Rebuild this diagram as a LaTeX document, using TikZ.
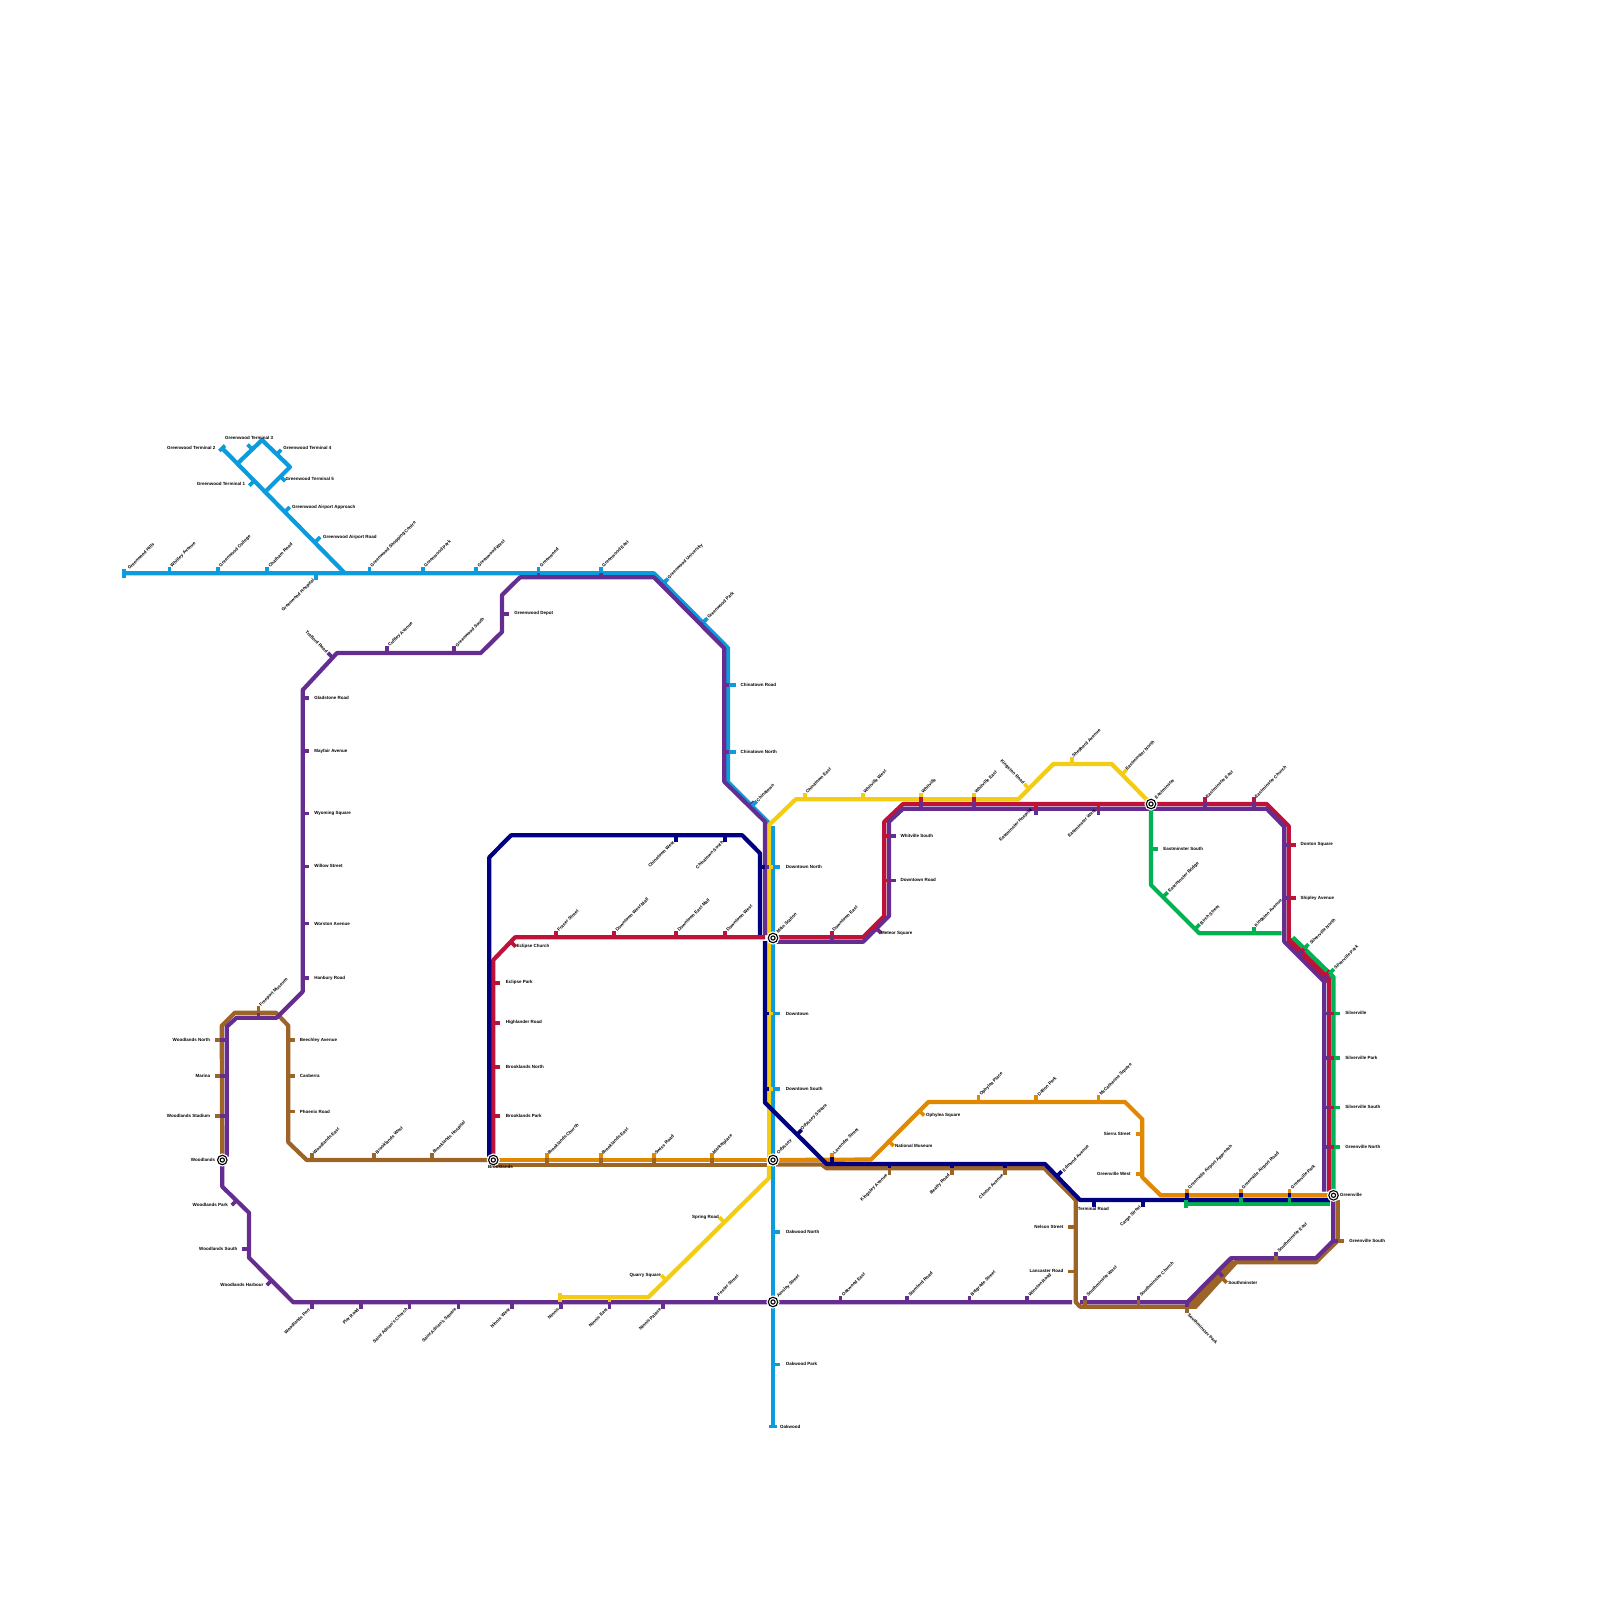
\documentclass[tikz,border=0pt]{standalone}
\usepackage{fontspec}
\setmainfont{Liberation Sans}
\usepackage{xcolor}
\usepackage{tikz}
\definecolor{lineblue}{HTML}{0C9BDC}
\definecolor{linepurple}{HTML}{662D91}
\definecolor{linered}{HTML}{BE1238}
\definecolor{linenavy}{HTML}{000080}
\definecolor{lineyellow}{HTML}{F3CC13}
\definecolor{lineorange}{HTML}{E18700}
\definecolor{linebrown}{HTML}{9C6426}
\definecolor{linegreen}{HTML}{00B251}

\begin{document}
\begin{tikzpicture}[x=1pt,y=-1pt]
    \tikzset{
      metroline/.style={draw=#1,line width=4.2pt,line join=round},
      stoptick/.style={draw=#1,line width=3.6pt},
      stoplabel/.style={font=\fontsize{4.5}{5}\selectfont\bfseries,inner sep=0pt,outer sep=0pt,text=black},
      lblE/.style={stoplabel,anchor=west,xshift=#1},lblE/.default=5pt,
      lblW/.style={stoplabel,anchor=east,xshift=#1},lblW/.default=-5pt,
      lblNE/.style={stoplabel,xshift=#1,rotate=45,anchor=west,xshift=0.6pt},lblNE/.default=1.7pt,
      lblSW/.style={stoplabel,xshift=#1,rotate=45,anchor=east},lblSW/.default=-2.4pt,
      lblNW/.style={stoplabel,rotate=-45,anchor=east,xshift=-1pt},
      lblSE/.style={stoplabel,rotate=-45,anchor=west,xshift=2pt},
      hub/.style={circle,draw=black,fill=white,line width=1.1pt,minimum size=9.5pt,inner sep=0pt,preaction={draw=white,line width=3.5pt}},
      hubcore/.style={circle,draw=black,fill=white,line width=1.1pt,minimum size=4.2pt,inner sep=0pt}
    }
    \useasboundingbox (0,0) rectangle (1600,1600);
    \coordinate (mainpt) at (773,938);
    \coordinate (brookpt) at (493.3,1160);
    \coordinate (odysseypt) at (773,1160);
    \coordinate (ainsleypt) at (773,1302);
    \coordinate (woodpt) at (222.3,1160);
    \coordinate (eastpt) at (1151,804);
    \coordinate (greenvillept) at (1333.5,1195.3);
    % routes
    \draw[metroline=linebrown] (woodpt) -- (221.7,1026) -- (235,1012.7) -- (276,1012.7) -- (288.3,1025.7) -- (288.3,1142.3) -- (306.7,1160) -- (brookpt);
    \draw[metroline=linebrown] (493.3,1165) -- (766.7,1165);
    \draw[metroline=linebrown] (776,1164.5) -- (821.7,1164.5) -- (826.7,1168.3) -- (1044.3,1168.3) -- (1075.7,1200) -- (1075.7,1302) -- (1080,1306.7) -- (1191.7,1306.7) -- (1235,1262.3) -- (1315.7,1262.3) -- (1337.7,1240.7) -- (1337.7,1200);
    \fill[linebrown] (1187.3,1302.3) -- (1230.7,1258.3) -- (1237,1264.4) -- (1196.5,1308.8) -- (1187.3,1308.8) -- cycle;
    \draw[metroline=lineorange] (brookpt) -- (766.7,1160);
    \draw[metroline=lineorange] (odysseypt) -- (871,1159.5) -- (928.3,1102) -- (1125,1102) -- (1142.3,1119.3) -- (1142.3,1177.3) -- (1160.7,1195.3) -- (greenvillept);
    \draw[metroline=lineblue] (124,573.3) -- (654,573.3) -- (728,648) -- (728,782) -- (769,823);
    \draw[metroline=lineblue] (773,826) -- (773,1427);
    \draw[metroline=lineblue] (222,448) -- (345,573.3);
    \draw[metroline=lineblue] (238,463) -- (262,440) -- (290,467) -- (265,492);
    \draw[metroline=lineyellow] (769,1110) -- (769,825) -- (795.7,799.3) -- (1018.3,799.3) -- (1053.3,764) -- (1111.7,764) -- (eastpt);
    \draw[metroline=lineyellow] (769,1100) -- (769,1157);
    \draw[metroline=lineyellow] (769,1166) -- (769,1178) -- (648.3,1297.3) -- (559.3,1297.3);
    \draw[metroline=linered] (brookpt) -- (493.3,960) -- (515,937.3) -- (765,937.3);
    \draw[metroline=linered] (mainpt) -- (773,937.3) -- (863,937.3) -- (884.3,916) -- (884.3,821.7) -- (903,804) -- (1266.7,804) -- (1288.7,826) -- (1288.7,940) -- (1329.3,980) -- (1329.3,1191.7);
    \draw[metroline=linered,line width=7pt] (1288.5,940) -- (1329.5,981);
    \draw[metroline=linepurple] (226.7,1156.7) -- (226.7,1026.7) -- (236.7,1017.7) -- (276.7,1017.7) -- (302.7,991.7) -- (302.7,690) -- (337,653) -- (480.7,653) -- (502,632) -- (502,595) -- (520,577.3) -- (654,577.3) -- (724.3,648.3) -- (724.3,781.7) -- (765,821.7) -- (765,935);
    \draw[metroline=linepurple] (776.7,941.7) -- (863.3,941.7) -- (889,916) -- (889,821.7) -- (903,808.7) -- (1266.7,808.7) -- (1284.3,826.7) -- (1284.3,941.7) -- (1324.3,981.7) -- (1324.3,1191.7);
    \draw[metroline=linepurple] (1333.3,1200) -- (1333.3,1240.7) -- (1315.7,1258.3) -- (1230.7,1258.3) -- (1187.3,1302.3) -- (1080,1302.3);
    \draw[metroline=linepurple] (1072,1302.3) -- (293.3,1302.3) -- (249,1257.7) -- (249,1212.7) -- (222.3,1186.7) -- (woodpt);
    \draw[metroline=linegreen] (eastpt) -- (1151,885) -- (1199.3,933.3) -- (1281.7,933.3);
    \draw[metroline=linegreen] (1292.7,937.3) -- (1333.5,977) -- (1333.5,1191.7);
    \draw[metroline=linegreen] (1185.7,1204) -- (1330,1204);
    \draw[metroline=linenavy] (489.3,1156.7) -- (489.3,857.3) -- (511,835.3) -- (742.3,835.3) -- (760,853.3) -- (760,935);
    \draw[metroline=linenavy] (765,941) -- (765,1102.7) -- (826.7,1164) -- (1045,1164) -- (1080,1200) -- (1330,1200);
    % greenwood line
    \draw[stoptick=lineblue] (124,577.5) -- (124,569) node[lblNE=4pt] (greenwoodhills) {Greenwood Hills};
    \draw[stoptick=lineblue] (169.3,573.3) -- ++(0,-6.6) node[lblNE] (whitleyave) {Whitley Avenue};
    \draw[stoptick=lineblue] (218,573.3) -- ++(0,-6.6) node[lblNE] (greenwoodcollege) {Greenwood College};
    \draw[stoptick=lineblue] (267,573.3) -- ++(0,-6.6) node[lblNE] (chathamrd) {Chatham Road};
    \draw[stoptick=lineblue] (316,573.3) -- ++(0,6.6) node[lblSW] (greenwoodhospital) {Greenwood Hospital};
    \draw[stoptick=lineblue] (369.3,573.3) -- ++(0,-6.6) node[lblNE] (greenwoodshopping) {Greenwood Shopping Centre};
    \draw[stoptick=lineblue] (422.7,573.3) -- ++(0,-6.6) node[lblNE] (greenwoodpark) {Greenwood Park};
    \draw[stoptick=lineblue] (476,573.3) -- ++(0,-6.6) node[lblNE] (greenwoodwest) {Greenwood West};
    \draw[stoptick=linepurple] (538.3,577.3) -- ++(0,-6.6);
    \draw[stoptick=lineblue] (538.3,573.3) -- ++(0,-6.6) node[lblNE] (greenwood) {Greenwood};
    \draw[stoptick=linepurple] (600.7,577.3) -- ++(0,-6.6);
    \draw[stoptick=lineblue] (600.7,573.3) -- ++(0,-6.6) node[lblNE] (greenwoodeast) {Greenwood East};
    \draw[stoptick=lineblue] (225,445.5) -- (219.3,451);
    \node[lblW=0pt] (terminaltwo) at (215.3,448.3) {Greenwood Terminal 2};
    \draw[stoptick=lineblue] (252,449) -- (247.5,444.5);
    \node[stoplabel,anchor=west] (terminalthree) at (225,438.3) {Greenwood Terminal 3};
    \draw[stoptick=lineblue] (276.5,454.5) -- (281.2,449.8);
    \node[lblE=0pt] (terminalfour) at (283.3,448.3) {Greenwood Terminal 4};
    \draw[stoptick=lineblue] (280.5,476.5) -- (285.2,481.2);
    \node[lblE=0pt] (terminalfive) at (285.7,479.3) {Greenwood Terminal 5};
    \draw[stoptick=lineblue] (254,481) -- (249.3,485.7);
    \node[lblW=0pt] (terminalone) at (245,483.7) {Greenwood Terminal 1};
    \draw[stoptick=lineblue] (285,511.7) -- ++(4.7,-4.7) node[lblE=2.5pt] (airportapproach) {Greenwood Airport Approach};
    \draw[stoptick=lineblue] (315.5,541.7) -- ++(4.7,-4.7) node[lblE=3pt] (airportroad) {Greenwood Airport Road};
    % upper purple
    \draw[stoptick=linepurple] (332.5,657.5) -- ++(-4.7,-4.7) node[lblNW] (traffordrd) {Trafford Road};
    \draw[stoptick=linepurple] (387,653) -- ++(0,-6.6) node[lblNE] (cuffleyave) {Cuffley Avenue};
    \draw[stoptick=linepurple] (454,653) -- ++(0,-6.6) node[lblNE] (greenwoodsouth) {Greenwood South};
    \draw[stoptick=linepurple] (502,613.7) -- ++(7.3,0) node[lblE] (greenwooddepot) {Greenwood Depot};
    \draw[stoptick=linepurple] (302.7,698) -- ++(6.6,0) node[lblE] (gladstonerd) {Gladstone Road};
    \draw[stoptick=linepurple] (302.7,751) -- ++(6.6,0) node[lblE] (mayfairave) {Mayfair Avenue};
    \draw[stoptick=linepurple] (302.7,813.3) -- ++(6.6,0) node[lblE] (wyomingsq) {Wyoming Square};
    \draw[stoptick=linepurple] (302.7,866.3) -- ++(6.6,0) node[lblE] (willowst) {Willow Street};
    \draw[stoptick=linepurple] (302.7,923.5) -- ++(6.6,0) node[lblE] (worstonave) {Worston Avenue};
    \draw[stoptick=linepurple] (302.7,978) -- ++(6.6,0) node[lblE] (hanburyrd) {Hanbury Road};
    \draw[stoptick=linepurple] (258.3,1017.7) -- ++(0,-6.6);
    \draw[stoptick=linebrown] (258.3,1012.7) -- ++(0,-6.6) node[lblNE] (freeportmuseum) {Freeport Museum};
    \draw[stoptick=linebrown] (221.7,1040) -- ++(-6.6,0) node[lblW] (woodlandsnorth) {Woodlands North};
    \draw[stoptick=linepurple] (226.7,1040) -- ++(-6.6,0);
    \draw[stoptick=linebrown] (221.7,1075.7) -- ++(-6.6,0) node[lblW] (marina) {Marina};
    \draw[stoptick=linepurple] (226.7,1075.7) -- ++(-6.6,0);
    \draw[stoptick=linebrown] (221.7,1115.7) -- ++(-6.6,0) node[lblW] (woodlandsstadium) {Woodlands Stadium};
    \draw[stoptick=linepurple] (226.7,1115.7) -- ++(-6.6,0);
    % woodlands brown
    \draw[stoptick=linebrown] (288.3,1040) -- ++(6.6,0) node[lblE] (beechleyave) {Beechley Avenue};
    \draw[stoptick=linebrown] (288.3,1075.7) -- ++(6.6,0) node[lblE] (canberra) {Canberra};
    \draw[stoptick=linebrown] (288.3,1111.5) -- ++(6.6,0) node[lblE] (phoenixrd) {Phoenix Road};
    \draw[stoptick=linebrown] (311.7,1160) -- ++(0,-6.6) node[lblNE] (woodlandseast) {Woodlands East};
    \draw[stoptick=linebrown] (374,1160) -- ++(0,-6.6) node[lblNE] (brooklandswest) {Brooklands West};
    \draw[stoptick=linebrown] (431.7,1160) -- ++(0,-6.6) node[lblNE] (brooklandshospital) {Brooklands Hospital};
    % lower purple
    \draw[stoptick=linepurple] (236.5,1200.5) -- ++(-4.7,4.7) node[lblW=-4pt] (woodlandspark) {Woodlands Park};
    \draw[stoptick=linepurple] (249,1249) -- ++(-6.6,0) node[lblW] (woodlandssouth) {Woodlands South};
    \draw[stoptick=linepurple] (271.5,1280.5) -- ++(-4.7,4.7) node[lblW=-3.5pt] (woodlandsharbour) {Woodlands Harbour};
    \draw[stoptick=linepurple] (311.7,1302.3) -- ++(0,6.6) node[lblSW] (woodlandsport) {Woodlands Port};
    \draw[stoptick=linepurple] (360.7,1302.3) -- ++(0,6.6) node[lblSW] (pierrd) {Pier Road};
    \draw[stoptick=linepurple] (409.3,1302.3) -- ++(0,6.6) node[lblSW] (adrianchurch) {Saint Adrian's Church};
    \draw[stoptick=linepurple] (458.3,1302.3) -- ++(0,6.6) node[lblSW] (adriansquare) {Saint Adrian's Square};
    \draw[stoptick=linepurple] (511.7,1302.3) -- ++(0,6.6) node[lblSW] (ninniswest) {Ninnis West};
    \draw[stoptick=lineyellow] (560,1293) -- (560,1301.5);
    \draw[stoptick=linepurple] (560.7,1302.3) -- ++(0,6.6) node[lblSW] (ninnis) {Ninnis};
    \draw[stoptick=lineyellow] (609.3,1297.3) -- ++(0,6.6);
    \draw[stoptick=linepurple] (609.3,1302.3) -- ++(0,6.6) node[lblSW] (ninniseast) {Ninnis East};
    \draw[stoptick=linepurple] (662.7,1302.3) -- ++(0,6.6) node[lblSW] (ninnispalace) {Ninnis Palace};
    \draw[stoptick=linepurple] (716,1302.3) -- ++(0,-6.6) node[lblNE] (fosterst) {Foster Street};
    \draw[stoptick=linepurple] (840.3,1302.3) -- ++(0,-6.6) node[lblNE] (oakwoodeast) {Oakwood East};
    \draw[stoptick=linepurple] (907,1302.3) -- ++(0,-6.6) node[lblNE] (stamfordrd) {Stamford Road};
    \draw[stoptick=linepurple] (969.3,1302.3) -- ++(0,-6.6) node[lblNE] (belgradest) {Belgrade Street};
    \draw[stoptick=linepurple] (1027,1302.3) -- ++(0,-6.6) node[lblNE] (winstonrd) {Winston Road};
    \draw[stoptick=linepurple] (1085,1302.3) -- ++(0,-6.6) node[lblNE] (southminsterwest) {Southminster West};
    \draw[stoptick=linebrown] (1085,1306.7) -- ++(0,-6.6);
    \draw[stoptick=linepurple] (1138.3,1302.3) -- ++(0,-6.6) node[lblNE] (southminsterchurch) {Southminster Church};
    \draw[stoptick=linebrown] (1138.3,1306.7) -- ++(0,-6.6);
    \draw[stoptick=linepurple] (1187,1302.3) -- ++(0,6.6);
    \draw[stoptick=linebrown] (1187,1306.7) -- ++(0,6.6) node[lblSE] (southminsterpark) {Southminster Park};
    \draw[stoptick=linepurple] (1218,1271.7) -- ++(4.7,4.7);
    \draw[stoptick=linebrown] (1222,1278) -- ++(4.7,4.7) node[lblE=1.6pt] (southminster) {Southminster};
    \draw[stoptick=linepurple] (1276,1258.3) -- ++(0,-6.6) node[lblNE] (southminstereast) {Southminster East};
    \draw[stoptick=linebrown] (1276,1262.3) -- ++(0,-6.6);
    \draw[stoptick=linepurple] (1333.3,1240.7) -- ++(6.6,0);
    \draw[stoptick=linebrown] (1337.7,1240.7) -- ++(6.6,0) node[lblE] (greenvillesouth) {Greenville South};
    % oakwood
    \draw[stoptick=lineblue] (728,685) -- ++(7.6,0) node[lblE] (chinatownrd) {Chinatown Road};
    \draw[stoptick=linepurple] (724.3,685) -- ++(4.2,0);
    \draw[stoptick=lineblue] (728,751.7) -- ++(7.6,0) node[lblE] (chinatownnorth) {Chinatown North};
    \draw[stoptick=linepurple] (724.3,751.7) -- ++(4.2,0);
    \draw[stoptick=linepurple] (661.7,585) -- ++(4.7,-4.7);
    \draw[stoptick=lineblue] (663.3,583.3) -- ++(4.7,-4.7) node[lblNE=0pt] (greenwooduni) {Greenwood University};
    \draw[stoptick=linepurple] (701.2,624.4) -- ++(4.7,-4.7);
    \draw[stoptick=lineblue] (702.8,622.8) -- ++(4.7,-4.7) node[lblNE=0pt] (greenwoodparksecond) {Greenwood Park};
    \draw[stoptick=linepurple] (749.5,806.5) -- ++(4.7,-4.7);
    \draw[stoptick=lineblue] (752,806) -- ++(4.7,-4.7) node[lblNE=0pt] (chinatown) {Chinatown};
    \draw[stoptick=linenavy] (760,867) -- ++(6.6,0);
    \draw[stoptick=linepurple] (765,867) -- ++(6.6,0);
    \draw[stoptick=lineyellow] (769,867) -- ++(6.6,0);
    \draw[stoptick=lineblue] (773,867) -- ++(6.8,0) node[lblE=6pt] (downtownnorth) {Downtown North};
    \draw[stoptick=linenavy] (765,1013.5) -- ++(6,0);
    \draw[stoptick=lineyellow] (769,1013.5) -- ++(6,0);
    \draw[stoptick=lineblue] (773,1013.5) -- ++(6.8,0) node[lblE=6pt] (downtown) {Downtown};
    \draw[stoptick=linenavy] (765,1089) -- ++(6,0);
    \draw[stoptick=lineyellow] (769,1089) -- ++(6,0);
    \draw[stoptick=lineblue] (773,1089) -- ++(6.8,0) node[lblE=6pt] (downtownsouth) {Downtown South};
    \draw[stoptick=lineblue] (773,1231.7) -- ++(6.8,0) node[lblE=6pt] (oakwoodnorth) {Oakwood North};
    \draw[stoptick=lineblue] (773,1364.3) -- ++(6.8,0) node[lblE=6pt] (oakwoodpark) {Oakwood Park};
    \draw[stoptick=lineblue] (769,1426.5) -- ++(8,0) node[lblE=3pt] (oakwood) {Oakwood};
    % navy
    \draw[stoptick=linenavy] (676,835.3) -- ++(0,6.6) node[lblSW] (chinatownwest) {Chinatown West};
    \draw[stoptick=linenavy] (725,835.3) -- ++(0,6.6) node[lblSW] (chinatownsouth) {Chinatown South};
    \draw[stoptick=linenavy] (797,1134.5) -- ++(4.7,-4.7) node[lblNE=-0.5pt] (odysseysq) {Odyssey Square};
    \draw[stoptick=lineorange] (831.7,1159.7) -- ++(0,-6.6);
    \draw[stoptick=linenavy] (831.7,1164) -- ++(0,-7.3);
    \node[lblNE=0pt] (lavenderst) at (833.3,1153.3) {Lavender Street};
    \draw[stoptick=linenavy] (889.3,1164) -- ++(0,6.6);
    \draw[stoptick=linebrown] (889.3,1168.3) -- ++(0,6.6) node[lblSW] (kingsleyave) {Kingsley Avenue};
    \draw[stoptick=linenavy] (951.7,1164) -- ++(0,6.6);
    \draw[stoptick=linebrown] (951.7,1168.3) -- ++(0,6.6) node[lblSW] (beattyrd) {Beatty Road};
    \draw[stoptick=linenavy] (1005,1164) -- ++(0,6.6);
    \draw[stoptick=linebrown] (1005,1168.3) -- ++(0,6.6) node[lblSW] (clintonave) {Clinton Avenue};
    \draw[stoptick=linenavy] (1057,1176) -- ++(4.7,-4.7) node[lblNE=1pt] (edmundave) {Edmund Avenue};
    \draw[stoptick=linenavy] (1094,1200) -- ++(0,6.6);
    \node[stoplabel,anchor=north] (terminalrd) at (1093.3,1207.5) {Terminal Road};
    \draw[stoptick=linenavy] (1142.7,1200) -- ++(0,6.6) node[lblSW] (cargost) {Cargo Street};
    \draw[stoptick=linebrown] (1075.7,1227) -- ++(-7.4,0) node[lblW] (nelsonst) {Nelson Street};
    \draw[stoptick=linebrown] (1075.7,1271.3) -- ++(-7.4,0) node[lblW] (lancasterrd) {Lancaster Road};
    % orange
    \draw[stoptick=lineorange] (546.7,1160) -- ++(0,-6.6);
    \draw[stoptick=linebrown] (546.7,1165) -- ++(0,-7.5);
    \node[lblNE=0pt] (brooklandschurch) at (548,1154) {Brooklands Church};
    \draw[stoptick=lineorange] (600.7,1160) -- ++(0,-6.6);
    \draw[stoptick=linebrown] (600.7,1165) -- ++(0,-7.5);
    \node[lblNE=0pt] (brooklandseast) at (602,1154) {Brooklands East};
    \draw[stoptick=lineorange] (653.7,1160) -- ++(0,-6.6);
    \draw[stoptick=linebrown] (653.7,1165) -- ++(0,-7.5);
    \node[lblNE=0pt] (swissrd) at (655,1154) {Swiss Road};
    \draw[stoptick=lineorange] (711.7,1160) -- ++(0,-6.6);
    \draw[stoptick=linebrown] (711.7,1165) -- ++(0,-7.5);
    \node[lblNE=0pt] (marketplace) at (713,1154) {Marketplace};
    \draw[stoptick=lineorange] (889,1141.3) -- ++(4.7,4.7) node[lblE=1.5pt] (nationalmuseum) {National Museum};
    \draw[stoptick=lineorange] (919.5,1110.8) -- ++(4.7,4.7) node[lblE=1.8pt] (ophyleasq) {Ophylea Square};
    \draw[stoptick=lineorange] (978.3,1102) -- ++(0,-6.6) node[lblNE] (ophyleapl) {Ophylea Place};
    \draw[stoptick=lineorange] (1036,1102) -- ++(0,-6.6) node[lblNE] (daltonpark) {Dalton Park};
    \draw[stoptick=lineorange] (1098.3,1102) -- ++(0,-6.6) node[lblNE] (mccatherinesq) {McCatherine Square};
    \draw[stoptick=lineorange] (1142.3,1133.7) -- ++(-6.6,0) node[lblW] (sierrast) {Sierra Street};
    \draw[stoptick=lineorange] (1142.3,1173.7) -- ++(-6.6,0) node[lblW] (greenvillewest) {Greenville West};
    \draw[stoptick=lineorange] (1187,1195.3) -- ++(0,-6.6) node[lblNE] (airportapproachg) {Greenville Airport Approach};
    \draw[stoptick=linenavy] (1187,1200) -- ++(0,-6.6);
    \draw[stoptick=linegreen] (1185.7,1199.7) -- ++(0,8.6);
    \draw[stoptick=lineorange] (1240.7,1195.3) -- ++(0,-6.6) node[lblNE] (airportroadg) {Greenville Airport Road};
    \draw[stoptick=linenavy] (1240.7,1200) -- ++(0,-6.6);
    \draw[stoptick=linegreen] (1240.7,1204) -- ++(0,-6.6);
    \draw[stoptick=lineorange] (1289.3,1195.3) -- ++(0,-6.6) node[lblNE] (greenvillepark) {Greenville Park};
    \draw[stoptick=linenavy] (1289.3,1200) -- ++(0,-6.6);
    \draw[stoptick=linegreen] (1289.3,1204) -- ++(0,-6.6);
    % yellow
    \draw[stoptick=lineyellow] (805,799.3) -- ++(0,-6.6) node[lblNE=1pt] (chinatowneast) {Chinatown East};
    \draw[stoptick=lineyellow] (862.7,799.3) -- ++(0,-6.6) node[lblNE=1pt] (whitvillewest) {Whitville West};
    \draw[stoptick=lineyellow] (920.7,799.3) -- ++(0,-6.6) node[lblNE=1pt] (whitville) {Whitville};
    \draw[stoptick=linered] (920.7,804) -- ++(0,-6.6);
    \draw[stoptick=linepurple] (920.7,808.7) -- ++(0,-6.6);
    \draw[stoptick=lineyellow] (974,799.3) -- ++(0,-6.6) node[lblNE=1pt] (whitvilleeast) {Whitville East};
    \draw[stoptick=linered] (974,804) -- ++(0,-6.6);
    \draw[stoptick=linepurple] (974,808.7) -- ++(0,-6.6);
    \draw[stoptick=lineyellow] (1029,788.6) -- ++(-4.7,-4.7) node[lblNW] (kingstonrd) {Kingston Road};
    \draw[stoptick=lineyellow] (1071.7,764) -- ++(0,-6.6) node[lblNE=1pt] (shepherdave) {Shepherd Avenue};
    \draw[stoptick=lineyellow] (1122,774.3) -- ++(4.7,-4.7) node[lblNE=-1pt] (eastminsternorth) {Eastminster North};
    \draw[stoptick=lineyellow] (724,1222) -- ++(-4.7,-4.7) node[lblW=-0.5pt] (springrd) {Spring Road};
    \draw[stoptick=lineyellow] (666,1280) -- ++(-4.7,-4.7) node[lblW=-0.5pt] (quarrysq) {Quarry Square};
    % red
    \draw[stoptick=linered] (556,937.3) -- ++(0,-6.6) node[lblNE] (fraserst) {Fraser Street};
    \draw[stoptick=linered] (614,937.3) -- ++(0,-6.6) node[lblNE] (westmall) {Downtown West Mall};
    \draw[stoptick=linered] (676,937.3) -- ++(0,-6.6) node[lblNE] (eastmall) {Downtown East Mall};
    \draw[stoptick=linered] (725,937.3) -- ++(0,-6.6) node[lblNE] (downtownwest) {Downtown West};
    \draw[stoptick=linered] (511,942) -- ++(4.7,4.7) node[lblE=1pt] (eclipsechurch) {Eclipse Church};
    \draw[stoptick=linered] (493.3,982.7) -- ++(6.6,0) node[lblE=6pt] (eclipsepark) {Eclipse Park};
    \draw[stoptick=linered] (493.3,1022.7) -- ++(6.6,0) node[lblE=6pt] (highlanderrd) {Highlander Road};
    \draw[stoptick=linered] (493.3,1067) -- ++(6.6,0) node[lblE=6pt] (brooklandsnorth) {Brooklands North};
    \draw[stoptick=linered] (493.3,1116) -- ++(6.6,0) node[lblE=6pt] (brooklandspark) {Brooklands Park};
    \draw[stoptick=linered] (831.7,937.3) -- ++(0,-6.6) node[lblNE=1pt] (downtowneast) {Downtown East};
    \draw[stoptick=linepurple] (831.7,941.7) -- ++(0,-6.6);
    \draw[stoptick=linered] (884.3,836) -- ++(6.6,0);
    \draw[stoptick=linepurple] (889,836) -- ++(6.7,0) node[lblE] (whitvillesouth) {Whitville South};
    \draw[stoptick=linered] (884.3,880.3) -- ++(6.6,0);
    \draw[stoptick=linepurple] (889,880.3) -- ++(6.7,0) node[lblE] (downtownrd) {Downtown Road};
    \draw[stoptick=linered] (874,926.3) -- ++(4.7,4.7);
    \draw[stoptick=linepurple] (876.5,928.5) -- ++(4.7,4.7) node[lblE=0pt] (meteorsq) {Meteor Square};
    \draw[stoptick=linered] (1036,804) -- ++(0,6.6);
    \draw[stoptick=linepurple] (1036,808.7) -- ++(0,6.6);
    \node[lblSW=0pt] (eastminsterhospital) at (1031.7,809.3) {Eastminster Hospital};
    \draw[stoptick=linered] (1098.3,804) -- ++(0,6.6);
    \draw[stoptick=linepurple] (1098.3,808.7) -- ++(0,6.6);
    \node[lblSW=0pt] (eastminsterwest) at (1095,810) {Eastminster West};
    \draw[stoptick=linered] (1205,804) -- ++(0,-6.6) node[lblNE=1pt] (eastminstereast) {Eastminster East};
    \draw[stoptick=linepurple] (1205,808.7) -- ++(0,-6.6);
    \draw[stoptick=linered] (1254,804) -- ++(0,-6.6) node[lblNE=1pt] (eastminsterchurch) {Eastminster Church};
    \draw[stoptick=linepurple] (1254,808.7) -- ++(0,-6.6);
    \draw[stoptick=linepurple] (1284.3,844.7) -- ++(6.6,0);
    \draw[stoptick=linered] (1288.7,844.7) -- ++(7,0) node[lblE] (dontonsq) {Donton Square};
    \draw[stoptick=linepurple] (1284.3,898) -- ++(6.6,0);
    \draw[stoptick=linered] (1288.7,898) -- ++(7,0) node[lblE] (shipleyave) {Shipley Avenue};
    % green
    \draw[stoptick=linegreen] (1151,849) -- ++(6.7,0) node[lblE=5.6pt] (eastminstersouth) {Eastminster South};
    \draw[stoptick=linegreen] (1163,897) -- ++(4.7,-4.7) node[lblNE=1pt] (eastminsterbridge) {Eastminster Bridge};
    \draw[stoptick=linegreen] (1195,929) -- ++(4.7,-4.7) node[lblNE=0.5pt] (birchst) {Birch Street};
    \draw[stoptick=linegreen] (1254,933.3) -- ++(0,-6.6) node[lblNE=1pt] (kingstonave) {Kingston Avenue};
    \draw[stoptick=linepurple] (1297.8,955.2) -- ++(4.7,-4.7);
    \draw[stoptick=linered] (1302,951) -- ++(4.7,-4.7);
    \draw[stoptick=linegreen] (1303.8,948.8) -- ++(4.7,-4.7) node[lblNE=1.5pt] (silvervillenorth) {Silverville North};
    \draw[stoptick=linepurple] (1322.8,980.2) -- ++(4.7,-4.7);
    \draw[stoptick=linered] (1325.5,975.5) -- ++(4.7,-4.7);
    \draw[stoptick=linegreen] (1329.2,973.8) -- ++(4.7,-4.7) node[lblNE=0.5pt] (silvervillepark) {Silverville Park};
    \draw[stoptick=linepurple] (1324.3,1013.3) -- ++(6.6,0);
    \draw[stoptick=linered] (1329.3,1013.3) -- ++(6.6,0);
    \draw[stoptick=linegreen] (1333.5,1013.3) -- ++(6.8,0) node[lblE] (silverville) {Silverville};
    \draw[stoptick=linepurple] (1324.3,1058) -- ++(6.6,0);
    \draw[stoptick=linered] (1329.3,1058) -- ++(6.6,0);
    \draw[stoptick=linegreen] (1333.5,1058) -- ++(6.8,0) node[lblE] (silvervilleparkb) {Silverville Park};
    \draw[stoptick=linepurple] (1324.3,1107.3) -- ++(6.6,0);
    \draw[stoptick=linered] (1329.3,1107.3) -- ++(6.6,0);
    \draw[stoptick=linegreen] (1333.5,1107.3) -- ++(6.8,0) node[lblE] (silvervillesouth) {Silverville South};
    \draw[stoptick=linepurple] (1324.3,1147) -- ++(6.6,0);
    \draw[stoptick=linered] (1329.3,1147) -- ++(6.6,0);
    \draw[stoptick=linegreen] (1333.5,1147) -- ++(6.8,0) node[lblE] (greenvillenorth) {Greenville North};
    % interchanges
    \node[hub] (mainstation) at (mainpt) {};
    \node[hubcore] (maincore) at (mainpt) {};
    \node[lblNE=0pt] (mainlabel) at (776.7,932.7) {Main Station};
    \node[hub] (brooklands) at (brookpt) {};
    \node[hubcore] (brookcore) at (brookpt) {};
    \node[stoplabel,anchor=west] (brooklabel) at (488,1167.3) {Brooklands};
    \node[hub] (odyssey) at (odysseypt) {};
    \node[hubcore] (odysseycore) at (odysseypt) {};
    \node[lblNE=0pt] (odysseylabel) at (777.3,1154) {Odyssey};
    \node[hub] (ainsley) at (ainsleypt) {};
    \node[hubcore] (ainsleycore) at (ainsleypt) {};
    \node[lblNE=0pt] (ainsleylabel) at (777.3,1297.3) {Ainsley Street};
    \node[hub] (woodlands) at (woodpt) {};
    \node[hubcore] (woodcore) at (woodpt) {};
    \node[lblW=0pt] (woodlabel) at (215,1160) {Woodlands};
    \node[hub] (eastminster) at (eastpt) {};
    \node[hubcore] (eastcore) at (eastpt) {};
    \node[lblNE=0pt] (eastlabel) at (1155,798.3) {Eastminster};
    \node[hub] (greenville) at (greenvillept) {};
    \node[hubcore] (greenvillecore) at (greenvillept) {};
    \node[lblE=0pt] (greenvillelabel) at (1340,1195) {Greenville};
\end{tikzpicture}
\end{document}
